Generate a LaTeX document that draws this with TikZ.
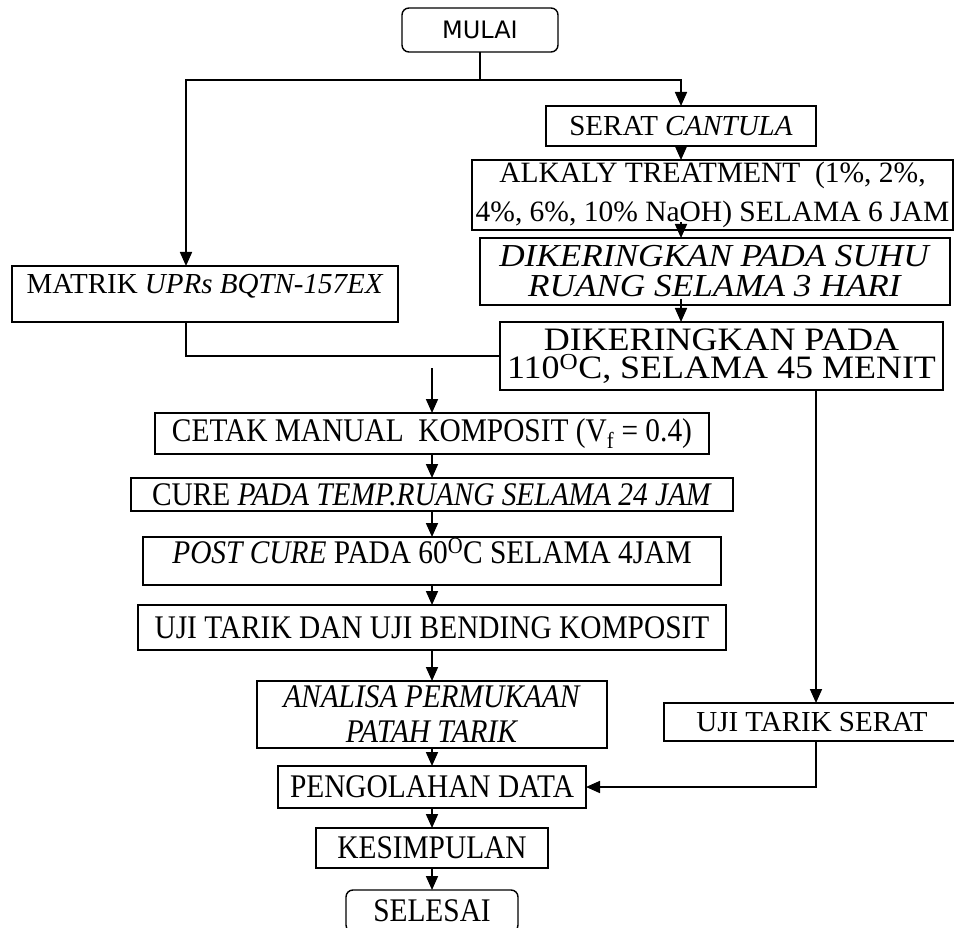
\documentclass[tikz,border=0pt]{standalone}
\usepackage{fontspec}
\setmainfont{Liberation Serif}
\newfontfamily\narrowserif[FakeStretch=0.89]{Liberation Serif}
\newfontfamily\wideserif[FakeStretch=1.1]{Liberation Serif}
\newfontfamily\startfont{DejaVu Sans}
\usetikzlibrary{arrows.meta,positioning}

\begin{document}
\begin{tikzpicture}[
    x=1pt, y=-1pt,
    line width=1.4pt,
    box/.style={draw, rectangle, inner sep=0pt, outer sep=0pt, align=center},
    roundbox/.style={box, rounded corners=7pt},
    txt/.style={font=\fontsize{29}{33}\selectfont},
    coltxt/.style={font=\narrowserif\fontsize{33}{35}\selectfont},
    arrow/.style={-{Triangle[length=14pt, width=12pt]}, line width=1.7pt}
]
\useasboundingbox (0,0) rectangle (954,928);

% ---------- Start and fibre treatment ----------
\node[roundbox, font=\startfont\fontsize{24}{28}\selectfont, minimum width=156pt, minimum height=44pt] (mulai) at (480,30) {MULAI};
\node[box, txt, minimum width=270pt, minimum height=40pt] (serat) at (681,126) {SERAT \textit{CANTULA}};
\node[box, font=\fontsize{29.5}{38.5}\selectfont, minimum width=481pt, minimum height=70pt] (alkali) at (712.5,195) {ALKALY TREATMENT~ (1\%, 2\%,\\4\%, 6\%, 10\% NaOH) SELAMA 6 JAM};
\node[box, font=\wideserif\fontsize{32}{30}\selectfont, minimum width=470pt, minimum height=67pt] (keringsuhu) at (715,271.5) {\textit{DIKERINGKAN PADA SUHU}\\\textit{RUANG SELAMA 3 HARI}};
\node[box, font=\wideserif\fontsize{32.7}{28}\selectfont, minimum width=443pt, minimum height=68pt] (keringoven) at (721.5,356) {DIKERINGKAN PADA\\110\textsuperscript{O}C, SELAMA 45 MENIT};
\node[box, txt, minimum width=386pt, text height=28pt, text depth=28pt] (matrik) at (205,294) {MATRIK \textit{UPRs BQTN-157EX}};
\node[box, txt, minimum width=296pt, minimum height=38pt] (ujiserat) at (812,722) {UJI TARIK SERAT};

% ---------- Composite column ----------
\node[box, coltxt, minimum width=554pt, minimum height=41pt] (cetak) at (432,433.5) {CETAK MANUAL~ KOMPOSIT (V\textsubscript{f} = 0.4)};
\node[box, coltxt, minimum width=602pt, minimum height=33pt, below=24pt of cetak] (cure) {CURE \textit{PADA TEMP.RUANG SELAMA 24 JAM}};
\node[box, coltxt, minimum width=578pt, text height=26pt, text depth=22pt, below=26pt of cure] (postcure) {\textit{POST CURE} PADA 60\textsuperscript{O}C SELAMA 4JAM};
\node[box, coltxt, minimum width=588pt, minimum height=45pt, below=20pt of postcure] (ujikomp) {UJI TARIK DAN UJI BENDING KOMPOSIT};
\node[box, coltxt, minimum width=350pt, minimum height=67pt, below=31pt of ujikomp] (analisa) {\textit{ANALISA PERMUKAAN}\\\textit{PATAH TARIK}};
\node[box, coltxt, minimum width=308pt, minimum height=42pt, below=18pt of analisa] (olah) {PENGOLAHAN DATA};
\node[box, coltxt, minimum width=232pt, minimum height=40pt, below=20pt of olah] (simpul) {KESIMPULAN};
\node[roundbox, coltxt, minimum width=172pt, minimum height=42pt, below=22pt of simpul] (selesai) {SELESAI};

% ---------- Connectors ----------
\coordinate (topbar) at (480,80);
\coordinate (merge) at (432,368);
\coordinate (rightline) at (816,0);

\draw (mulai) -- (topbar);
\draw[arrow] (topbar) -| (serat.north);
\draw[arrow] (topbar) -| ([xshift=-19pt]matrik.north);
\draw[arrow] (serat.south) -- (serat.south |- alkali.north);
\draw[arrow] ([yshift=8pt]alkali.south -| serat) -- (keringsuhu.north -| serat);
\draw[arrow] ([yshift=6pt]keringsuhu.south -| serat) -- (keringoven.north -| serat);
\draw ([xshift=-19pt]matrik.south) |- (keringoven.west);
\draw[arrow] (merge) -- (cetak.north);

\foreach \a/\b in {cetak/cure, cure/postcure, postcure/ujikomp, ujikomp/analisa, analisa/olah, olah/simpul, simpul/selesai}
    \draw[arrow] (\a) -- (\b);

\draw[arrow] (keringoven.south -| rightline) -- (ujiserat.north -| rightline);
\draw[arrow] (ujiserat.south -| rightline) |- (olah.east);

\end{tikzpicture}
\end{document}
